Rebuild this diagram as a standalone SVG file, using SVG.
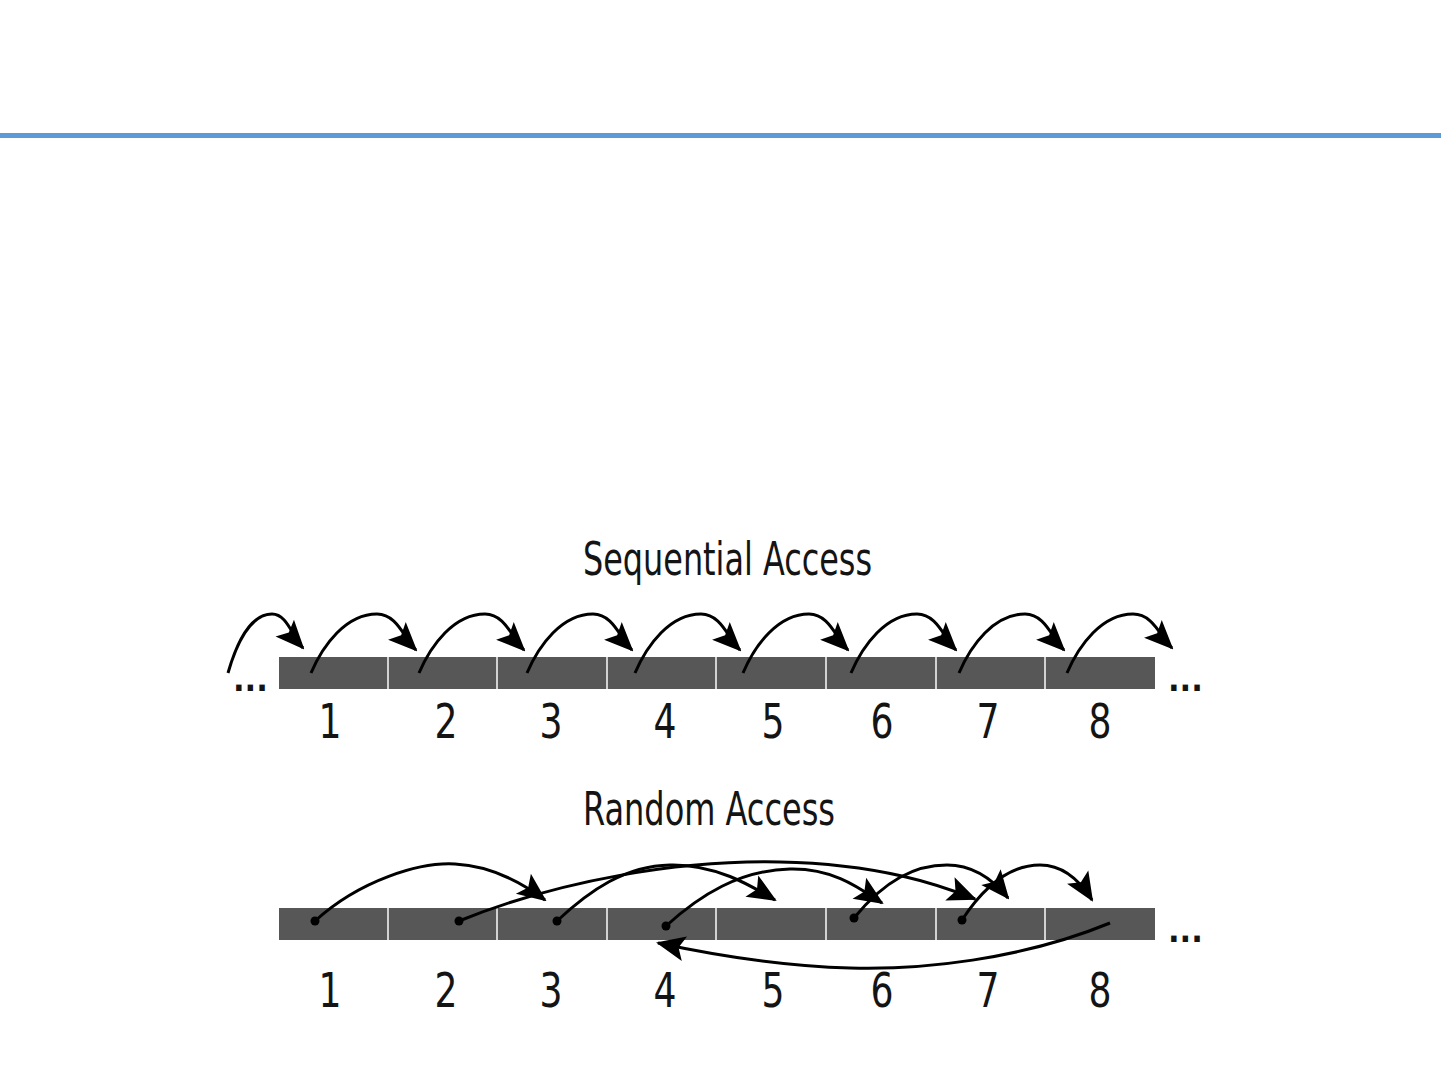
<svg xmlns="http://www.w3.org/2000/svg" width="1441" height="1081" viewBox="0 0 1441 1081">
<style>
.t{font-family:"Liberation Sans Narrow","DejaVu Sans Condensed","Liberation Sans",sans-serif;fill:#141414;}
.title{font-size:47px;}
.num{font-size:48px;text-anchor:middle;}
.dots{font-size:34px;font-weight:bold;}
.cell{fill:#575757;}
.div{stroke:#d2d2d2;stroke-width:2;}
.arc{fill:none;stroke:#000;stroke-width:3;marker-end:url(#ah);}
.pt{fill:#000;}
</style>
<defs>
<marker id="ah" viewBox="-32 -15 34 30" refX="0" refY="0" markerWidth="34" markerHeight="30" markerUnits="userSpaceOnUse" orient="auto">
<path d="M2,0 L-27,-12.5 L-21,0 L-27,12.5 Z" fill="#000"/>
</marker>
</defs>
<rect width="1441" height="1081" fill="#fff"/>
<rect x="0" y="133" width="1441" height="5" fill="#5B9BD5"/>

<g id="seq-title"><text class="t title" x="583" y="575" textLength="289" lengthAdjust="spacingAndGlyphs">Sequential Access</text></g>

<g id="seq-bar">
<rect class="cell" x="279" y="657" width="876" height="32"/>
<line class="div" x1="388" y1="657" x2="388" y2="689"/>
<line class="div" x1="497" y1="657" x2="497" y2="689"/>
<line class="div" x1="607" y1="657" x2="607" y2="689"/>
<line class="div" x1="716" y1="657" x2="716" y2="689"/>
<line class="div" x1="826" y1="657" x2="826" y2="689"/>
<line class="div" x1="936" y1="657" x2="936" y2="689"/>
<line class="div" x1="1045" y1="657" x2="1045" y2="689"/>
</g>
<g id="seq-ellipsis">
<text class="t dots" x="233" y="691">...</text>
<text class="t dots" x="1168" y="691">...</text>
</g>
<g id="seq-labels">
<text class="t num" x="330" y="738" textLength="23" lengthAdjust="spacingAndGlyphs">1</text>
<text class="t num" x="446" y="738" textLength="23" lengthAdjust="spacingAndGlyphs">2</text>
<text class="t num" x="551" y="738" textLength="23" lengthAdjust="spacingAndGlyphs">3</text>
<text class="t num" x="665" y="738" textLength="23" lengthAdjust="spacingAndGlyphs">4</text>
<text class="t num" x="773" y="738" textLength="23" lengthAdjust="spacingAndGlyphs">5</text>
<text class="t num" x="882" y="738" textLength="23" lengthAdjust="spacingAndGlyphs">6</text>
<text class="t num" x="988" y="738" textLength="23" lengthAdjust="spacingAndGlyphs">7</text>
<text class="t num" x="1100" y="738" textLength="23" lengthAdjust="spacingAndGlyphs">8</text>
</g>

<g id="rand-title"><text class="t title" x="583" y="825" textLength="252" lengthAdjust="spacingAndGlyphs">Random Access</text></g>

<g id="rand-bar">
<rect class="cell" x="279" y="908" width="876" height="32"/>
<line class="div" x1="388" y1="908" x2="388" y2="940"/>
<line class="div" x1="497" y1="908" x2="497" y2="940"/>
<line class="div" x1="607" y1="908" x2="607" y2="940"/>
<line class="div" x1="716" y1="908" x2="716" y2="940"/>
<line class="div" x1="826" y1="908" x2="826" y2="940"/>
<line class="div" x1="936" y1="908" x2="936" y2="940"/>
<line class="div" x1="1045" y1="908" x2="1045" y2="940"/>
</g>
<g id="rand-ellipsis">
<text class="t dots" x="1168" y="942">...</text>
</g>
<g id="rand-labels">
<text class="t num" x="330" y="1007" textLength="23" lengthAdjust="spacingAndGlyphs">1</text>
<text class="t num" x="446" y="1007" textLength="23" lengthAdjust="spacingAndGlyphs">2</text>
<text class="t num" x="551" y="1007" textLength="23" lengthAdjust="spacingAndGlyphs">3</text>
<text class="t num" x="665" y="1007" textLength="23" lengthAdjust="spacingAndGlyphs">4</text>
<text class="t num" x="773" y="1007" textLength="23" lengthAdjust="spacingAndGlyphs">5</text>
<text class="t num" x="882" y="1007" textLength="23" lengthAdjust="spacingAndGlyphs">6</text>
<text class="t num" x="988" y="1007" textLength="23" lengthAdjust="spacingAndGlyphs">7</text>
<text class="t num" x="1100" y="1007" textLength="23" lengthAdjust="spacingAndGlyphs">8</text>
</g>

<g id="connectors">
<path class="arc" d="M228,673 C236,645 250,614 272,614 C287,614 292,636 303,648"/>
<path class="arc" d="M311,673 C323,645 346,614 377,614 C397,614 404,638 416,650"/>
<path class="arc" d="M419,673 C431,645 454,614 485,614 C505,614 512,638 524,650"/>
<path class="arc" d="M527,673 C539,645 562,614 593,614 C613,614 620,638 632,650"/>
<path class="arc" d="M635,673 C647,645 670,614 701,614 C721,614 728,638 740,650"/>
<path class="arc" d="M743,673 C755,645 778,614 809,614 C829,614 836,638 848,650"/>
<path class="arc" d="M851,673 C863,645 886,614 917,614 C937,614 944,638 956,650"/>
<path class="arc" d="M959,673 C971,645 994,614 1025,614 C1045,614 1052,638 1064,650"/>
<path class="arc" d="M1067,673 C1079,645 1102,614 1133,614 C1153,614 1160,636 1172,648"/>

<path class="arc" d="M315,921 C360,880 420,862 455,864 C495,866 525,885 545,900"/>
<path class="arc" d="M459,921 C560,880 680,860 780,862 C880,864 940,885 975,899"/>
<path class="arc" d="M557,921 C590,890 625,866 670,865 C715,864 750,885 775,900"/>
<path class="arc" d="M666,926 C700,895 740,870 790,869 C835,868 862,890 882,903"/>
<path class="arc" d="M854,918 C885,880 915,865 947,865 C975,865 995,882 1008,898"/>
<path class="arc" d="M962,920 C985,885 1010,865 1040,865 C1065,865 1082,884 1092,900"/>
<path class="arc" d="M1110,923 C1020,960 920,970 850,968 C770,966 700,952 658,943"/>
<circle class="pt" cx="315" cy="921" r="4.5"/>
<circle class="pt" cx="459" cy="921" r="4.5"/>
<circle class="pt" cx="557" cy="921" r="4.5"/>
<circle class="pt" cx="666" cy="926" r="4.5"/>
<circle class="pt" cx="854" cy="918" r="4.5"/>
<circle class="pt" cx="962" cy="920" r="4.5"/>
</g>
</svg>
